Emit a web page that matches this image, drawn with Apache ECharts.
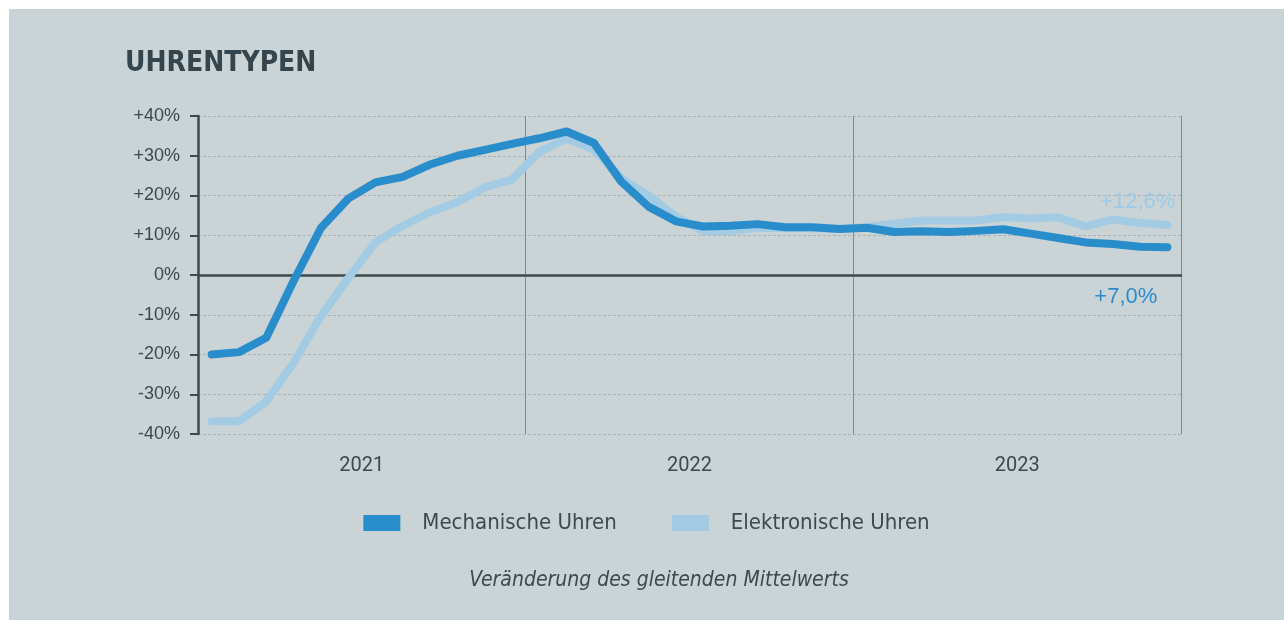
<!DOCTYPE html>
<html>
<head>
<meta charset="utf-8">
<title>Uhrentypen</title>
<script src="https://cdn.jsdelivr.net/npm/echarts@6/dist/echarts.min.js"></script>
<style>
  html, body { margin: 0; padding: 0; background: #ffffff; }
  .chart { position: absolute; left: 9px; top: 9px; width: 1275px; height: 611px; }
</style>
</head>
<body>
<div class="chart"></div>
<script>
// 数据
var months = ['01/21', '02/21', '03/21', '04/21', '05/21', '06/21', '07/21', '08/21', '09/21', '10/21', '11/21', '12/21',
  '01/22', '02/22', '03/22', '04/22', '05/22', '06/22', '07/22', '08/22', '09/22', '10/22', '11/22', '12/22',
  '01/23', '02/23', '03/23', '04/23', '05/23', '06/23', '07/23', '08/23', '09/23', '10/23', '11/23', '12/23'];
var years = ['2021', '2022', '2023'];
var mechanisch = [-20.0, -19.4, -15.8, -1.5, 11.8, 19.2, 23.3, 24.7, 27.8, 30.0, 31.5, 33.0,
  34.4, 36.1, 33.2, 23.5, 17.2, 13.5, 12.2, 12.4, 12.8, 12.0, 12.0, 11.6,
  11.9, 10.8, 11.0, 10.8, 11.1, 11.5, 10.4, 9.3, 8.2, 7.8, 7.1, 7.0];
var elektronisch = [-36.8, -36.8, -31.8, -22.1, -10.4, -0.8, 8.2, 12.4, 15.8, 18.3, 22.1, 24.0,
  31.0, 34.3, 31.5, 24.4, 20.0, 14.7, 11.0, 11.1, 11.8, 11.8, 11.8, 11.6,
  12.1, 12.9, 13.7, 13.7, 13.7, 14.6, 14.2, 14.5, 12.2, 14.0, 13.1, 12.6];

var textDark = '#3b4950';
var blueDark = '#2a8dcb';
var blueLight = '#a3cce4';
var narrow = 'DejaVu Sans Condensed';

var myChart = echarts.init(document.querySelector('.chart'));

// 数字格式 +12,6%
function pct(v, digits) {
  var s = v.toFixed(digits).replace('.', ',');
  return (v > 0 ? '+' : '') + s + '%';
}

var option = {
  backgroundColor: '#cad3d6',
  animation: false,
  title: [{
    text: 'UHRENTYPEN',
    left: 111,
    top: 36,
    textStyle: {
      color: '#34454d',
      fontFamily: narrow,
      fontWeight: 'bold',
      fontSize: 28
    }
  }, {
    text: 'Veränderung des gleitenden Mittelwerts',
    left: 645,
    textAlign: 'center',
    top: 556,
    textStyle: {
      color: textDark,
      fontFamily: narrow,
      fontStyle: 'italic',
      fontWeight: 'normal',
      fontSize: 21
    }
  }],
  legend: {
    top: 498,
    left: 'center',
    icon: 'rect',
    itemWidth: 37,
    itemHeight: 16,
    itemGap: 55,
    textStyle: {
      color: textDark,
      fontFamily: narrow,
      fontSize: 22,
      padding: [0, 0, 0, 17]
    },
    data: ['Mechanische Uhren', 'Elektronische Uhren']
  },
  grid: {
    left: 189,
    right: 103,
    top: 107,
    bottom: 186,
    outerBoundsMode: 'none'
  },
  xAxis: [{
    // 年份轴（线放在0上）
    type: 'category',
    data: years,
    boundaryGap: true,
    position: 'bottom',
    axisLine: {
      onZero: true,
      lineStyle: { color: textDark, width: 2.5 }
    },
    axisTick: {
      length: 6,
      lineStyle: { color: textDark, width: 1.5 }
    },
    axisLabel: {
      margin: 22,
      color: textDark,
      fontFamily: 'Roboto',
      fontSize: 20
    },
    splitLine: {
      show: true,
      lineStyle: { color: '#7f8a8f', width: 1 }
    }
  }, {
    // 月份轴（只用于定位）
    type: 'category',
    data: months,
    boundaryGap: true,
    show: false
  }],
  yAxis: {
    type: 'value',
    min: -40,
    max: 40,
    interval: 10,
    axisLine: {
      show: true,
      lineStyle: { color: textDark, width: 2.5 }
    },
    axisTick: {
      show: true,
      length: 8,
      lineStyle: { color: textDark, width: 2 }
    },
    axisLabel: {
      margin: 18,
      color: textDark,
      fontFamily: 'Liberation Sans',
      fontSize: 18,
      formatter: function (v) { return pct(v, 0); }
    },
    splitLine: {
      lineStyle: { color: '#a9b2b6', width: 1, type: [3, 2] }
    }
  },
  series: [{
    name: 'Elektronische Uhren',
    type: 'line',
    xAxisIndex: 1,
    data: elektronisch,
    showSymbol: false,
    color: blueLight,
    z: 2,
    lineStyle: { width: 8, cap: 'round', join: 'round', color: blueLight },
    endLabel: {
      show: true,
      align: 'right',
      offset: [0, -23],
      color: '#9dcbe6',
      fontFamily: 'Liberation Sans',
      fontSize: 22,
      formatter: function (p) { return pct(p.value, 1); }
    }
  }, {
    name: 'Mechanische Uhren',
    type: 'line',
    xAxisIndex: 1,
    data: mechanisch,
    showSymbol: false,
    color: blueDark,
    z: 3,
    lineStyle: { width: 8, cap: 'round', join: 'round', color: blueDark },
    endLabel: {
      show: true,
      align: 'right',
      offset: [-18, 50],
      color: '#2a8ccc',
      fontFamily: 'Liberation Sans',
      fontSize: 22,
      formatter: function (p) { return pct(p.value, 1); }
    }
  }]
};

myChart.setOption(option);

window.addEventListener('resize', function () {
  myChart.resize();
});
</script>
</body>
</html>
